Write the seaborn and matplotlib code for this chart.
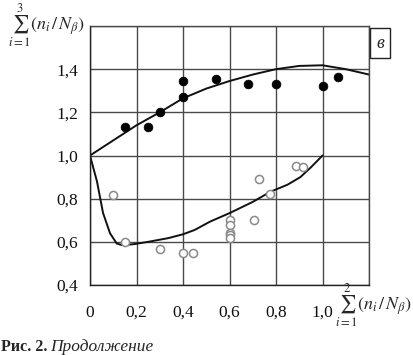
import numpy as np
import pandas as pd
import seaborn as sns
import matplotlib
matplotlib.use('Agg')
import matplotlib.pyplot as plt

# upper curve (sum over 3)
upper_x = [0, 0.1, 0.2, 0.3, 0.4, 0.5, 0.6, 0.7, 0.8, 0.9, 1.0, 1.1, 1.2]
upper_y = [1.0, 1.07, 1.14, 1.20, 1.265, 1.31, 1.345, 1.375, 1.40, 1.415, 1.418, 1.40, 1.375]

# lower curve
lower_x = [0, 0.03, 0.056, 0.086, 0.115, 0.137, 0.16, 0.194, 0.25, 0.336, 0.4, 0.45,
           0.517, 0.6, 0.7, 0.776, 0.85, 0.905, 0.95, 1.0]
lower_y = [1.0, 0.88, 0.734, 0.64, 0.592, 0.585, 0.586, 0.59, 0.60, 0.617, 0.635, 0.655,
           0.694, 0.733, 0.785, 0.832, 0.865, 0.90, 0.945, 1.0]

# filled points
fill_x = [0.15, 0.25, 0.30, 0.40, 0.40, 0.54, 0.68, 0.80, 1.00, 1.065]
fill_y = [1.13, 1.13, 1.20, 1.27, 1.345, 1.355, 1.33, 1.33, 1.32, 1.363]

# open points
open_x = [0.10, 0.15, 0.30, 0.40, 0.445, 0.60, 0.60, 0.60, 0.60, 0.60, 0.705, 0.725, 0.775, 0.885, 0.915]
open_y = [0.815, 0.60, 0.565, 0.55, 0.55, 0.70, 0.68, 0.64, 0.63, 0.62, 0.70, 0.89, 0.82, 0.95, 0.945]

x_ticks = [0, 0.2, 0.4, 0.6, 0.8, 1.0, 1.2]
x_labels = ['0', '0,2', '0,4', '0,6', '0,8', '1,0', '']
y_ticks = [0.4, 0.6, 0.8, 1.0, 1.2, 1.4, 1.6]
y_labels = ['0,4', '0,6', '0,8', '1,0', '1,2', '1,4', '']

sns.set_style('white')
plt.rcParams['font.family'] = ['Liberation Serif', 'DejaVu Serif']
plt.rcParams['mathtext.fontset'] = 'stix'

fig = plt.figure(figsize=(4.13, 3.55), dpi=100)
ax = fig.add_axes([90 / 413, 1 - 285 / 355, 279 / 413, 259 / 355])

grid_col = '#4a4a4a'
ax.set_xlim(0, 1.2)
ax.set_ylim(0.4, 1.6)
ax.set_xticks(x_ticks)
ax.set_xticklabels(x_labels)
ax.set_yticks(y_ticks)
ax.set_yticklabels(y_labels)
ax.grid(True, color=grid_col, linewidth=1.0)
ax.set_axisbelow(True)
for s in ax.spines.values():
    s.set_color(grid_col)
    s.set_linewidth(1.0)
ax.spines['left'].set_color('#222222')
ax.spines['bottom'].set_color('#222222')
ax.tick_params(direction='out', length=4.5, width=1, color='#222222',
               labelsize=12.5, labelcolor='#111111')
ax.tick_params(axis='x', pad=10)
ax.tick_params(axis='y', pad=4)

sns.lineplot(x=upper_x, y=upper_y, ax=ax, color='#111111', linewidth=1.4,
             sort=False, estimator=None)
sns.lineplot(x=lower_x, y=lower_y, ax=ax, color='#111111', linewidth=1.4,
             sort=False, estimator=None)
sns.scatterplot(x=fill_x, y=fill_y, ax=ax, color='black', s=40, edgecolor='black',
                linewidth=0.5, zorder=5)
sns.scatterplot(x=open_x, y=open_y, ax=ax, facecolor='white', s=34, edgecolor='#8a8a8a',
                linewidth=1.1, zorder=5)
ax.set_xlabel('')
ax.set_ylabel('')

# axis labels
fig.text(47 / 413, 1 - 1 / 355, r'$\sum_{i=1}^{3}\left(n_i\,/\,N_\beta\right)$',
         ha='center', va='top', fontsize=13)
fig.text(374 / 413, 1 - 305 / 355, r'$\sum_{i=1}^{2}\left(n_i\,/\,N_\beta\right)$',
         ha='center', va='center', fontsize=13)

# panel letter
fig.text(380 / 413, 1 - 43 / 355, 'в', ha='center', va='center', fontsize=13,
         style='italic',
         bbox=dict(boxstyle='square,pad=0.35', facecolor='white', edgecolor='#222222', linewidth=1))

# caption
fig.text(1 / 413, 1 - 351 / 355, 'Рис. 2.', ha='left', va='baseline', fontsize=11.5,
         fontweight='bold')
fig.text(50 / 413, 1 - 351 / 355, 'Продолжение', ha='left', va='baseline', fontsize=12.5,
         style='italic')

fig.savefig('out.png', dpi=100)
